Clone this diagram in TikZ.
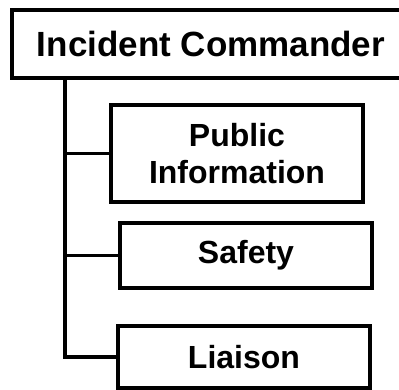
\documentclass[tikz,border=0pt]{standalone}
\usepackage{fontspec}
\setmainfont{Liberation Sans}
\begin{document}
\begin{tikzpicture}[
        x=1pt, y=-1pt,
        base/.style={draw, line width=3.5pt, align=center, inner sep=0pt, minimum width=252pt, font=\bfseries\fontsize{32}{37}\selectfont},
        head/.style={base, minimum width=398pt, minimum height=68pt, font=\bfseries\fontsize{35}{40}\selectfont},
        unit/.style={base},
        link/.style={line width=3.5pt}
    ]
        \useasboundingbox (0,0) rectangle (399,389);
        \node[head] (ic) at (211,44) {Incident Commander};
        \node[unit, minimum height=97pt] (pio) at (237,153.5) {Public\\ Information};
        \node[unit, minimum height=65pt] (safety) at (246,255.5) {Safety};
        \node[unit, minimum height=62pt] (liaison) at (244,357) {Liaison};

        \coordinate (trunk) at (65,78);

        \draw[link] (trunk) |- (liaison.west);
        \draw[link] (trunk |- pio.west) -- (pio.west);
        \draw[link] (trunk |- safety.west) -- (safety.west);
    \end{tikzpicture}
\end{document}
